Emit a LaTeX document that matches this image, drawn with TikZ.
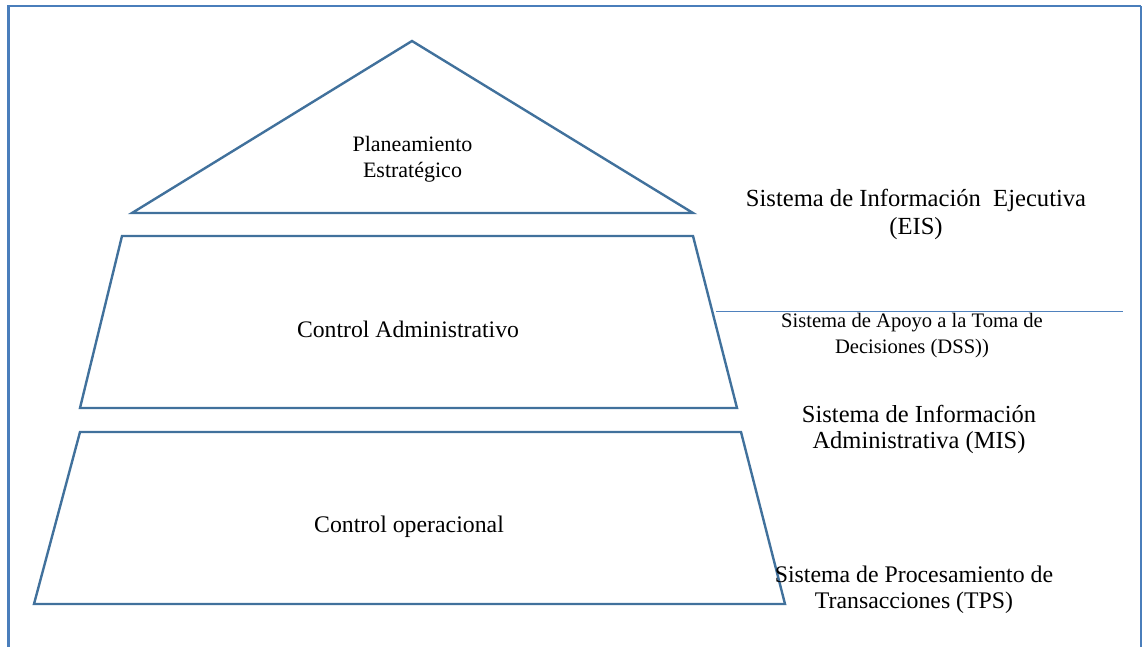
\documentclass[tikz,border=0pt]{standalone}
\usepackage{fontspec}
\setmainfont{Liberation Serif}
\definecolor{shapeblue}{HTML}{41719C}
\definecolor{frameblue}{HTML}{4A7EBB}
\definecolor{thinblue}{HTML}{4F81BD}
\tikzset{
  level/.style={draw=shapeblue, line width=2.4pt, line join=miter},
  frameline/.style={draw=frameblue, line width=2.2pt},
  lbl/.style={anchor=base, align=center, inner sep=0pt, text=black},
}
\begin{document}
\begin{tikzpicture}[x=1pt,y=-1pt]
\useasboundingbox (0,0) rectangle (1143,647);
% frame
\draw[frameline] (8.5,647) -- (8.5,6) -- (1141,6);
\draw[draw=frameblue, line width=1.5pt] (1141,6) -- (1141,647);
% separator line
\draw[draw=thinblue, line width=1pt] (716,311.5) -- (1123,311.5);
% pyramid
\draw[level] (412,41) -- (693,213) -- (132,213) -- cycle;
\draw[level] (122,236) -- (693,236) -- (737,408) -- (80,408) -- cycle;
\draw[level] (80,432) -- (741,432) -- (785,604) -- (34,604) -- cycle;
% labels (base anchor = baseline of the last line)
\node[lbl, font=\fontsize{22}{26}\selectfont] (plan) at (412.5,178) {Planeamiento\\Estratégico};
\node[lbl, font=\fontsize{23.7}{28}\selectfont] (cadm) at (408,337) {Control Administrativo};
\node[lbl, font=\fontsize{23.8}{28}\selectfont] (cop) at (409,532) {Control operacional};
\node[lbl, font=\fontsize{24.6}{28}\selectfont] (eis) at (916,234) {Sistema de Información\ \ Ejecutiva\\(EIS)};
\node[lbl, font=\fontsize{20.6}{26}\selectfont] (dss) at (912,353) {Sistema de Apoyo a la Toma de\\Decisiones (DSS))};
\node[lbl, font=\fontsize{24.5}{26}\selectfont] (mis) at (919,448) {Sistema de Información\\Administrativa (MIS)};
\node[lbl, font=\fontsize{23.8}{26}\selectfont] (tps) at (914,608) {Sistema de Procesamiento de\\Transacciones (TPS)};
\end{tikzpicture}
\end{document}
